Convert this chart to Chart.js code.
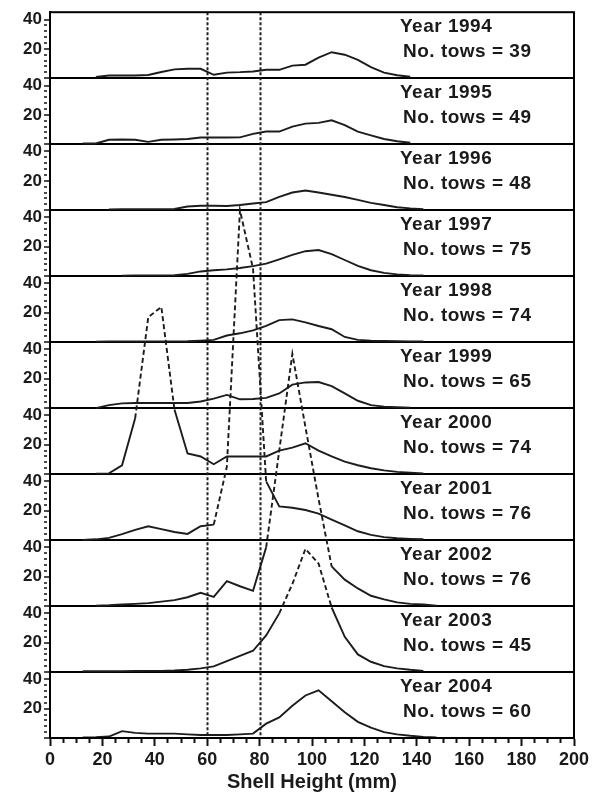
<!DOCTYPE html>
<html lang="en">
  <head>
    <meta charset="UTF-8" />
    <title>Shell height frequency by year</title>
    <script src="https://cdn.jsdelivr.net/npm/chart.js"></script>
    <style>
      html, body { margin: 0; padding: 0; background: #fff; }
    </style>
  </head>
  <body>
    <canvas id="shellChart" width="595" height="794"></canvas>
    <script>
      // 5 mm shell height bins (bin centres)
      const shellHeight = [12.5, 17.5, 22.5, 27.5, 32.5, 37.5, 42.5, 47.5, 52.5, 57.5,
        62.5, 67.5, 72.5, 77.5, 82.5, 87.5, 92.5, 97.5, 102.5, 107.5,
        112.5, 117.5, 122.5, 127.5, 132.5, 137.5, 142.5, 147.5];

      const years = [1994, 1995, 1996, 1997, 1998, 1999, 2000, 2001, 2002, 2003, 2004];
      const tows = [39, 49, 48, 75, 74, 65, 74, 76, 76, 45, 60];

      const y1994 = [null, 0.8, 1.8, 1.8, 1.8, 2.2, 4.2, 6, 6.4, 6.4, 2.3, 3.8, 4.1, 4.6, 5.7, 5.7, 8.6, 9.2, 14, 17.7, 16, 12.5, 7.5, 3.8, 2, 1, null, null];
      const y1995 = [0.5, 0.5, 3, 3.2, 3, 1.6, 3, 3.2, 3.5, 4.5, 4.5, 4.5, 4.6, 7, 8.6, 8.6, 12, 14, 14.5, 16.3, 13, 8.6, 6, 3.5, 2, 1, null, null];
      const y1996 = [null, null, 0.5, 0.7, 0.7, 0.7, 0.7, 0.8, 2.5, 3, 3, 2.8, 3.5, 4.5, 5.5, 9, 12, 13.4, 12, 10.5, 9, 7, 5, 3.5, 2, 1.2, 0.7, null];
      const y1997 = [null, null, null, 0.3, 0.5, 0.5, 0.5, 0.6, 1.5, 3.2, 4, 4.6, 5.5, 6.8, 8.5, 11.4, 14.5, 17, 17.8, 15, 11, 7, 4, 2.2, 1.2, 0.7, 0.5, null];
      const y1998 = [null, 0.3, 0.5, 0.5, 0.5, 0.5, 0.5, 0.5, 0.6, 1, 1.5, 4.5, 6, 8, 11, 15, 15.5, 13.5, 11, 8.8, 3.5, 1.5, 1, 0.8, 0.6, 0.5, 0.5, null];
      const y1999 = [null, 0, 2, 3.2, 3.5, 3.5, 3.5, 3.5, 3.5, 4.5, 6.5, 9, 6, 6.2, 7, 10, 16, 17.5, 17.8, 15, 10, 5, 2, 1, 0.6, 0.3, null, null];
      const y2000 = [null, 0.3, 0.5, 6, 38, 107, 114, 44, 14, 12, 6.7, 12, 12, 12, 12, 16, 18, 21, 16, 12, 8.5, 6, 4, 2.5, 1.5, 1, 0.5, null];
      const y2001 = [0, 0.5, 1.5, 4, 7, 9.4, 7.5, 5.5, 4.2, 9.4, 10.5, 50, 225, 185, 40, 23, 22, 20.5, 18, 14, 10, 6, 3.5, 2, 1.2, 0.8, 0.5, null];
      const y2002 = [null, 0.2, 0.5, 1, 1.5, 2, 3, 4, 6, 9, 6.3, 17, 13.5, 10.4, 40, 106, 172, 122, 73, 27, 18, 12, 7, 4.5, 2.5, 1.5, 1, 0.3];
      const y2003 = [0.5, 0.5, 0.5, 0.6, 0.7, 0.8, 0.8, 1, 1.5, 2.5, 3.8, 7.5, 11, 14.5, 25, 40, 60, 84, 74, 44, 24, 12, 7, 4, 2.5, 1.5, 0.8, null];
      const y2004 = [0.3, 0.5, 1, 4.7, 3.5, 3, 3, 3, 2.5, 2, 2, 2, 2.5, 3, 9.8, 14, 22, 29, 32.5, 25, 17.5, 11, 7, 4, 2.5, 1.5, 0.8, 0.3];

      const series = [y1994, y1995, y1996, y1997, y1998, y1999, y2000, y2001, y2002, y2003, y2004];

      // vertical reference lines (mm)
      const refLines = [60, 80];

      const panelMax = 45;
      const ink = "#1a1a1a";
      const fontFamily = "'Liberation Sans', Arial, sans-serif";

      const datasets = series.map((vals, i) => ({
        label: String(years[i]),
        data: vals.map((v, k) => ({ x: shellHeight[k], y: v })),
        xAxisID: "x",
        yAxisID: "y" + i,
        borderColor: "#1c1c1c",
        borderWidth: 1.9,
        pointRadius: 0,
        tension: 0,
        spanGaps: false,
        clip: false,
        // the part of a curve that runs above its own panel is dashed
        segment: {
          borderDash: (ctx) =>
            ctx.p0.parsed.y > panelMax || ctx.p1.parsed.y > panelMax ? [5, 3] : undefined,
        },
      }));

      const scales = {
        x: {
          type: "linear",
          position: "bottom",
          min: 0,
          max: 200,
          ticks: {
            stepSize: 5,
            autoSkip: false,
            maxRotation: 0,
            padding: 3,
            color: ink,
            font: { family: fontFamily, size: 18, weight: "bold" },
            callback: (v) => (v % 20 === 0 ? v : ""),
          },
          grid: {
            drawOnChartArea: false,
            tickLength: 8,
            tickColor: "#111",
            tickWidth: 2,
            tickBorderDash: (ctx) => (ctx.tick && ctx.tick.value % 20 === 0 ? [] : [4, 20]),
          },
          border: { color: "#000", width: 2 },
          title: {
            display: true,
            text: "Shell Height (mm)",
            color: ink,
            padding: { top: 0, bottom: 0 },
            font: { family: fontFamily, size: 20, weight: "bold" },
          },
          afterFit: (s) => { s.height = 56; },
        },
      };

      years.forEach((yr, i) => {
        scales["y" + i] = {
          type: "linear",
          position: "left",
          stack: "panels",
          stackWeight: 1,
          weight: years.length - i,
          min: 0,
          max: panelMax,
          ticks: {
            stepSize: 4,
            autoSkip: false,
            padding: 2,
            color: ink,
            font: { family: fontFamily, size: 17, weight: "bold" },
            callback: (v) => (v === 20 || v === 40 ? v : ""),
          },
          grid: {
            lineWidth: 2,
            color: (ctx) => (ctx.tick && ctx.tick.value === 0 ? "#000" : "rgba(0,0,0,0)"),
            tickLength: 6,
            tickWidth: 1.5,
            tickColor: (ctx) => (ctx.tick && ctx.tick.value % 4 === 0 ? "#111" : "rgba(0,0,0,0)"),
            tickBorderDash: (ctx) => (ctx.tick && ctx.tick.value % 20 === 0 ? [] : [3, 10]),
          },
          border: { color: "#000", width: 2 },
          afterFit: (s) => { s.width = 50; },
        };
      });

      // frame, 60/80 mm reference lines and the year captions
      const panelDecor = {
        id: "panelDecor",
        beforeDatasetsDraw(chart) {
          const { ctx, chartArea } = chart;
          const xs = chart.scales.x;
          ctx.save();
          ctx.strokeStyle = "#222";
          ctx.lineWidth = 2;
          ctx.setLineDash([3, 2]);
          refLines.forEach((mm) => {
            const px = Math.round(xs.getPixelForValue(mm)) + 0.5;
            ctx.beginPath();
            ctx.moveTo(px, chartArea.top);
            ctx.lineTo(px, chartArea.bottom);
            ctx.stroke();
          });
          ctx.restore();
        },
        afterDraw(chart) {
          const { ctx, chartArea } = chart;
          ctx.save();
          ctx.strokeStyle = "#000";
          ctx.lineWidth = 2;
          ctx.strokeRect(chartArea.left, chartArea.top, chartArea.right - chartArea.left, chartArea.bottom - chartArea.top);
          ctx.fillStyle = ink;
          ctx.font = "bold 19px " + fontFamily;
          ctx.letterSpacing = "0.5px";
          ctx.textAlign = "left";
          ctx.textBaseline = "alphabetic";
          years.forEach((yr, i) => {
            const top = chart.scales["y" + i].top;
            const tx = chartArea.right - 174;
            ctx.fillText("Year " + yr, tx, top + 20);
            ctx.fillText("No. tows = " + tows[i], tx + 3, top + 45);
          });
          ctx.restore();
        },
      };

      new Chart(document.getElementById("shellChart"), {
        type: "line",
        data: { datasets },
        options: {
          responsive: false,
          animation: false,
          devicePixelRatio: 1,
          layout: { padding: { top: 8, right: 21, left: 0, bottom: 0 } },
          plugins: {
            legend: { display: false },
            tooltip: { enabled: false },
          },
          scales,
        },
        plugins: [panelDecor],
      });
    </script>
  </body>
</html>
